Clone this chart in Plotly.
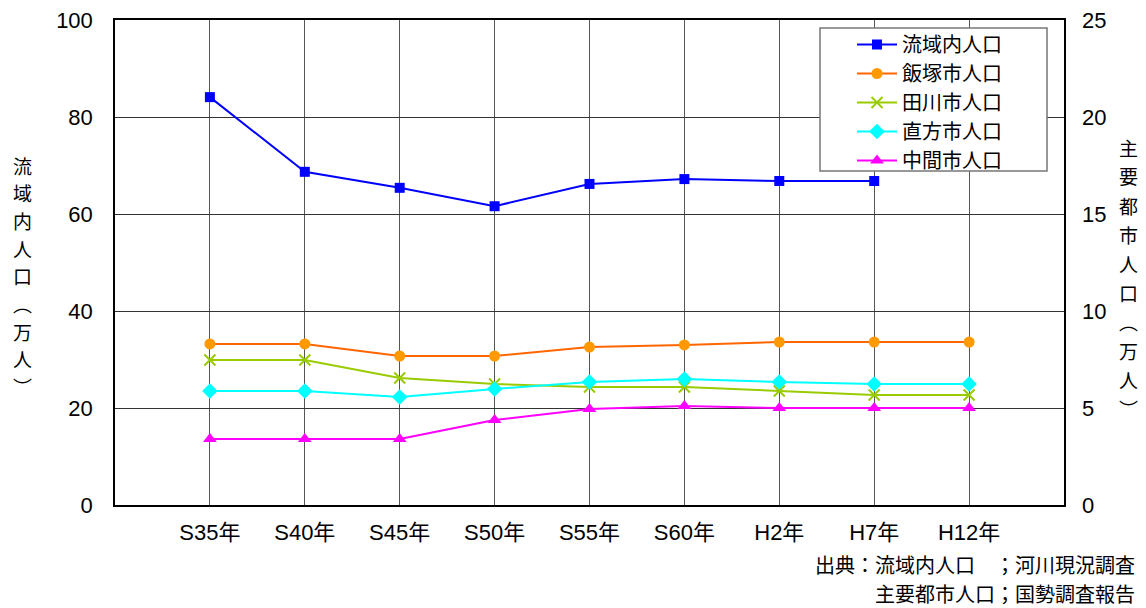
import plotly.graph_objects as go

categories = ["S35年", "S40年", "S45年", "S50年", "S55年", "S60年", "H2年", "H7年", "H12年"]
ryuiki = [84.1, 68.7, 65.4, 61.6, 66.2, 67.2, 66.8, 66.8, None]
iizuka = [8.30, 8.30, 7.68, 7.68, 8.14, 8.25, 8.40, 8.40, 8.40]
tagawa = [7.47, 7.47, 6.55, 6.24, 6.08, 6.08, 5.88, 5.67, 5.67]
nogata = [5.88, 5.88, 5.57, 5.98, 6.34, 6.49, 6.34, 6.24, 6.24]
nakama = [3.40, 3.40, 3.40, 4.38, 4.95, 5.10, 5.00, 5.00, 5.00]

left_title = "流域内人口︵万人︶"
right_title = "主要都市人口︵万人︶"
source_line1 = "出典：流域内人口　；河川現況調査"
source_line2 = "主要都市人口；国勢調査報告"

FONT = "Liberation Sans, Arial, Noto Sans CJK JP, sans-serif"
CJK = "Noto Sans CJK JP, sans-serif"

fig = go.Figure()
fig.add_trace(go.Scatter(x=categories, y=ryuiki, name="流域内人口", mode="lines+markers",
                         line=dict(color="#0000FF", width=2),
                         marker=dict(symbol="square", size=10, color="#0000FF"),
                         yaxis="y"))
fig.add_trace(go.Scatter(x=categories, y=iizuka, name="飯塚市人口", mode="lines+markers",
                         line=dict(color="#FF6600", width=2),
                         marker=dict(symbol="circle", size=11, color="#FF9900"),
                         yaxis="y2"))
fig.add_trace(go.Scatter(x=categories, y=tagawa, name="田川市人口", mode="lines+markers",
                         line=dict(color="#99CC00", width=2),
                         marker=dict(symbol="x-thin", size=11, color="#99CC00",
                                     line=dict(color="#99CC00", width=2)),
                         yaxis="y2"))
fig.add_trace(go.Scatter(x=categories, y=nogata, name="直方市人口", mode="lines+markers",
                         line=dict(color="#00FFFF", width=2),
                         marker=dict(symbol="diamond", size=12, color="#00FFFF"),
                         yaxis="y2"))
fig.add_trace(go.Scatter(x=categories, y=nakama, name="中間市人口", mode="lines+markers",
                         line=dict(color="#FF00FF", width=2),
                         marker=dict(symbol="triangle-up", size=12, color="#FF00FF"),
                         yaxis="y2"))

L, R, T, B = 115, 82, 20, 103
W, H = 1146, 608
pw, ph = W - L - R, H - T - B

def px_to_paper(xp, yp):
    return (xp - L) / pw, (H - B - yp) / ph

annotations = []
for i, ch in enumerate(left_title):
    xx, yy = px_to_paper(22, 165 + 27.7 * i)
    annotations.append(dict(text=ch, x=xx, y=yy, xref="paper", yref="paper",
                            xanchor="center", yanchor="middle", showarrow=False,
                            borderpad=0,
                            font=dict(family=CJK, size=19, color="#000")))
for i, ch in enumerate(right_title):
    xx, yy = px_to_paper(1128, 147 + 29.0 * i)
    annotations.append(dict(text=ch, x=xx, y=yy, xref="paper", yref="paper",
                            xanchor="center", yanchor="middle", showarrow=False,
                            borderpad=0,
                            font=dict(family=CJK, size=19, color="#000")))
xx, yy = px_to_paper(1137, 564)
annotations.append(dict(text=source_line1, x=xx, y=yy, xref="paper", yref="paper",
                        xanchor="right", yanchor="middle", showarrow=False,
                        font=dict(family=CJK, size=20, color="#000")))
xx, yy = px_to_paper(1137, 593)
annotations.append(dict(text=source_line2, x=xx, y=yy, xref="paper", yref="paper",
                        xanchor="right", yanchor="middle", showarrow=False,
                        font=dict(family=CJK, size=20, color="#000")))

# legend frame (white box with grey border), legend drawn on top of it
bx0, by0 = px_to_paper(820, 28)
bx1, by1 = px_to_paper(1047, 171)
shapes = [dict(type="rect", xref="paper", yref="paper", x0=bx0, x1=bx1, y0=by1, y1=by0,
               fillcolor="white", line=dict(color="#777", width=1.5), layer="above")]

lx, ly = px_to_paper(852, 25)
fig.update_layout(
    width=W, height=H,
    margin=dict(l=L, r=R, t=T, b=B, autoexpand=False),
    paper_bgcolor="white", plot_bgcolor="white",
    font=dict(family=FONT, size=22, color="#000"),
    showlegend=True,
    legend=dict(x=lx, y=ly, xanchor="left", yanchor="top",
                bgcolor="rgba(0,0,0,0)", borderwidth=0,
                font=dict(family=CJK, size=20, color="#000"),
                itemwidth=40, tracegroupgap=0),
    xaxis=dict(type="category", range=[-1, 9], showgrid=True, gridcolor="#555", gridwidth=1,
               showline=True, linecolor="#000", linewidth=1.5, mirror=True, automargin=False,
               ticks="", ticklabelstandoff=7, tickfont=dict(family=FONT, size=22)),
    yaxis=dict(range=[0, 100], dtick=20, showgrid=True, gridcolor="#333", gridwidth=1,
               showline=True, linecolor="#000", linewidth=1.5, mirror=True, automargin=False,
               ticks="", ticklabelstandoff=16, tickfont=dict(family=FONT, size=22),
               zeroline=False),
    yaxis2=dict(range=[0, 25], dtick=5, overlaying="y", side="right", showgrid=False,
                showline=False, ticks="", ticklabelstandoff=17, automargin=False,
                tickfont=dict(family=FONT, size=22), zeroline=False),
    shapes=shapes,
    annotations=annotations,
)

fig.write_html("out.html")
